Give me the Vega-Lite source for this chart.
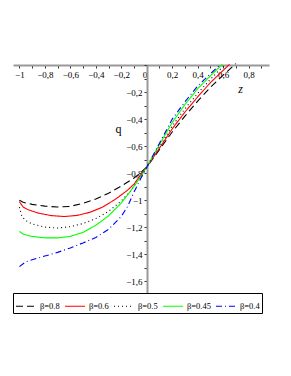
{
  "$schema": "https://vega.github.io/schema/vega-lite/v6.json",
  "width": 256,
  "height": 230,
  "autosize": "none",
  "padding": {"left": 13, "top": 65, "right": 22, "bottom": 81},
  "background": "white",
  "config": {
    "view": {"stroke": null},
    "font": "Liberation Serif",
    "legend": {
      "orient": "none",
      "legendX": 0,
      "legendY": 228,
      "direction": "horizontal",
      "columns": 5,
      "strokeColor": "black",
      "strokeWidth": 1,
      "fillColor": "white",
      "padding": 2,
      "symbolType": "stroke",
      "symbolSize": 400,
      "symbolStrokeWidth": 1.2,
      "labelFont": "Liberation Serif",
      "labelFontSize": 8.5,
      "labelColor": "black",
      "labelOffset": 3,
      "columnPadding": 2,
      "title": null
    }
  },
  "data": {
    "values": [
      {"beta": "β=0.8", "z": -1.0, "q": -1.0},
      {"beta": "β=0.8", "z": -0.97, "q": -1.015},
      {"beta": "β=0.8", "z": -0.9, "q": -1.03},
      {"beta": "β=0.8", "z": -0.8, "q": -1.043},
      {"beta": "β=0.8", "z": -0.7, "q": -1.05},
      {"beta": "β=0.8", "z": -0.6, "q": -1.045},
      {"beta": "β=0.8", "z": -0.5, "q": -1.022},
      {"beta": "β=0.8", "z": -0.4, "q": -0.99},
      {"beta": "β=0.8", "z": -0.3, "q": -0.948},
      {"beta": "β=0.8", "z": -0.2, "q": -0.895},
      {"beta": "β=0.8", "z": -0.1, "q": -0.835},
      {"beta": "β=0.8", "z": -0.05, "q": -0.798},
      {"beta": "β=0.8", "z": 0.0, "q": -0.755},
      {"beta": "β=0.8", "z": 0.1, "q": -0.625},
      {"beta": "β=0.8", "z": 0.2, "q": -0.495},
      {"beta": "β=0.8", "z": 0.3, "q": -0.378},
      {"beta": "β=0.8", "z": 0.4, "q": -0.267},
      {"beta": "β=0.8", "z": 0.5, "q": -0.165},
      {"beta": "β=0.8", "z": 0.6, "q": -0.075},
      {"beta": "β=0.8", "z": 0.7, "q": 0.01},

      {"beta": "β=0.6", "z": -1.0, "q": -1.01},
      {"beta": "β=0.6", "z": -0.97, "q": -1.05},
      {"beta": "β=0.6", "z": -0.93, "q": -1.07},
      {"beta": "β=0.6", "z": -0.85, "q": -1.095},
      {"beta": "β=0.6", "z": -0.75, "q": -1.113},
      {"beta": "β=0.6", "z": -0.65, "q": -1.12},
      {"beta": "β=0.6", "z": -0.55, "q": -1.112},
      {"beta": "β=0.6", "z": -0.45, "q": -1.09},
      {"beta": "β=0.6", "z": -0.35, "q": -1.052},
      {"beta": "β=0.6", "z": -0.25, "q": -0.995},
      {"beta": "β=0.6", "z": -0.15, "q": -0.925},
      {"beta": "β=0.6", "z": -0.1, "q": -0.88},
      {"beta": "β=0.6", "z": -0.05, "q": -0.815},
      {"beta": "β=0.6", "z": 0.0, "q": -0.755},
      {"beta": "β=0.6", "z": 0.1, "q": -0.615},
      {"beta": "β=0.6", "z": 0.2, "q": -0.472},
      {"beta": "β=0.6", "z": 0.3, "q": -0.348},
      {"beta": "β=0.6", "z": 0.4, "q": -0.236},
      {"beta": "β=0.6", "z": 0.5, "q": -0.13},
      {"beta": "β=0.6", "z": 0.6, "q": -0.04},
      {"beta": "β=0.6", "z": 0.65, "q": 0.005},

      {"beta": "β=0.5", "z": -1.0, "q": -1.05},
      {"beta": "β=0.5", "z": -0.98, "q": -1.12},
      {"beta": "β=0.5", "z": -0.95, "q": -1.15},
      {"beta": "β=0.5", "z": -0.9, "q": -1.175},
      {"beta": "β=0.5", "z": -0.8, "q": -1.198},
      {"beta": "β=0.5", "z": -0.7, "q": -1.205},
      {"beta": "β=0.5", "z": -0.6, "q": -1.195},
      {"beta": "β=0.5", "z": -0.5, "q": -1.172},
      {"beta": "β=0.5", "z": -0.4, "q": -1.135},
      {"beta": "β=0.5", "z": -0.3, "q": -1.082},
      {"beta": "β=0.5", "z": -0.2, "q": -1.005},
      {"beta": "β=0.5", "z": -0.13, "q": -0.935},
      {"beta": "β=0.5", "z": -0.05, "q": -0.828},
      {"beta": "β=0.5", "z": 0.0, "q": -0.755},
      {"beta": "β=0.5", "z": 0.1, "q": -0.603},
      {"beta": "β=0.5", "z": 0.2, "q": -0.452},
      {"beta": "β=0.5", "z": 0.3, "q": -0.323},
      {"beta": "β=0.5", "z": 0.4, "q": -0.21},
      {"beta": "β=0.5", "z": 0.5, "q": -0.105},
      {"beta": "β=0.5", "z": 0.6, "q": -0.01},
      {"beta": "β=0.5", "z": 0.615, "q": 0.005},

      {"beta": "β=0.45", "z": -1.0, "q": -1.23},
      {"beta": "β=0.45", "z": -0.97, "q": -1.25},
      {"beta": "β=0.45", "z": -0.9, "q": -1.267},
      {"beta": "β=0.45", "z": -0.8, "q": -1.278},
      {"beta": "β=0.45", "z": -0.7, "q": -1.278},
      {"beta": "β=0.45", "z": -0.6, "q": -1.267},
      {"beta": "β=0.45", "z": -0.5, "q": -1.237},
      {"beta": "β=0.45", "z": -0.4, "q": -1.185},
      {"beta": "β=0.45", "z": -0.3, "q": -1.115},
      {"beta": "β=0.45", "z": -0.2, "q": -1.02},
      {"beta": "β=0.45", "z": -0.13, "q": -0.935},
      {"beta": "β=0.45", "z": -0.05, "q": -0.83},
      {"beta": "β=0.45", "z": 0.0, "q": -0.755},
      {"beta": "β=0.45", "z": 0.1, "q": -0.588},
      {"beta": "β=0.45", "z": 0.2, "q": -0.425},
      {"beta": "β=0.45", "z": 0.3, "q": -0.292},
      {"beta": "β=0.45", "z": 0.4, "q": -0.175},
      {"beta": "β=0.45", "z": 0.5, "q": -0.08},
      {"beta": "β=0.45", "z": 0.595, "q": 0.005},

      {"beta": "β=0.4", "z": -1.0, "q": -1.49},
      {"beta": "β=0.4", "z": -0.95, "q": -1.455},
      {"beta": "β=0.4", "z": -0.9, "q": -1.44},
      {"beta": "β=0.4", "z": -0.8, "q": -1.412},
      {"beta": "β=0.4", "z": -0.7, "q": -1.385},
      {"beta": "β=0.4", "z": -0.6, "q": -1.352},
      {"beta": "β=0.4", "z": -0.5, "q": -1.315},
      {"beta": "β=0.4", "z": -0.4, "q": -1.275},
      {"beta": "β=0.4", "z": -0.3, "q": -1.215},
      {"beta": "β=0.4", "z": -0.2, "q": -1.12},
      {"beta": "β=0.4", "z": -0.15, "q": -1.045},
      {"beta": "β=0.4", "z": -0.1, "q": -0.94},
      {"beta": "β=0.4", "z": -0.05, "q": -0.845},
      {"beta": "β=0.4", "z": 0.0, "q": -0.755},
      {"beta": "β=0.4", "z": 0.1, "q": -0.578},
      {"beta": "β=0.4", "z": 0.2, "q": -0.4},
      {"beta": "β=0.4", "z": 0.3, "q": -0.272},
      {"beta": "β=0.4", "z": 0.4, "q": -0.155},
      {"beta": "β=0.4", "z": 0.5, "q": -0.065},
      {"beta": "β=0.4", "z": 0.58, "q": 0.005}
    ]
  },
  "mark": {"type": "line", "strokeWidth": 1.1},
  "encoding": {
    "x": {
      "field": "z",
      "type": "quantitative",
      "scale": {"domain": [-1.05, 0.96], "nice": false, "zero": false},
      "axis": {
        "orient": "bottom",
        "offset": -230,
        "title": "z",
        "titleFont": "Liberation Serif",
        "titleFontStyle": "italic",
        "titleFontWeight": "normal",
        "titleFontSize": 12,
        "titleX": 227,
        "titleY": 23,
        "titleAlign": "center",
        "titleBaseline": "middle",
        "values": [-1, -0.9, -0.8, -0.7, -0.6, -0.5, -0.4, -0.3, -0.2, -0.1, 0, 0.1, 0.2, 0.3, 0.4, 0.5, 0.6, 0.7, 0.8, 0.9],
        "labelExpr": "round(datum.value*10) % 2 != 0 ? '' : replace(replace(format(datum.value, '.1~f'), '.', ','), '-', '−')",
        "labelFont": "Liberation Serif",
        "labelFontSize": 9,
        "labelColor": "black",
        "labelPadding": 2,
        "labelAlign": {"condition": {"test": "datum.value == 0", "value": "right"}, "value": "center"},
        "labelOverlap": false,
        "labelFlush": false,
        "domainColor": "#999999",
        "domainWidth": 2,
        "tickColor": "#333333",
        "tickSize": 3,
        "tickWidth": 1,
        "grid": false
      }
    },
    "y": {
      "field": "q",
      "type": "quantitative",
      "scale": {"domain": [-1.7, 0], "nice": false, "zero": false},
      "axis": {
        "orient": "left",
        "offset": -134,
        "title": "q",
        "titleFont": "Liberation Serif",
        "titleFontWeight": "normal",
        "titleFontSize": 12,
        "titleAngle": 0,
        "titleX": -29,
        "titleY": 63,
        "titleAlign": "center",
        "titleBaseline": "middle",
        "values": [0, -0.1, -0.2, -0.3, -0.4, -0.5, -0.6, -0.7, -0.8, -0.9, -1, -1.1, -1.2, -1.3, -1.4, -1.5, -1.6, -1.7],
        "labelExpr": "(datum.value == 0 || round(datum.value*10) % 2 != 0) ? '' : replace(replace(format(datum.value, '.1~f'), '.', ','), '-', '−')",
        "labelFont": "Liberation Serif",
        "labelFontSize": 9,
        "labelColor": "black",
        "labelPadding": 2,
        "labelOverlap": false,
        "labelFlush": false,
        "domainColor": "#999999",
        "domainWidth": 2,
        "tickColor": "#333333",
        "tickSize": 3,
        "tickWidth": 1,
        "grid": false
      }
    },
    "color": {
      "field": "beta",
      "type": "nominal",
      "sort": ["β=0.8", "β=0.6", "β=0.5", "β=0.45", "β=0.4"],
      "scale": {
        "domain": ["β=0.8", "β=0.6", "β=0.5", "β=0.45", "β=0.4"],
        "range": ["#000000", "#ff0000", "#000000", "#00ff00", "#0000ff"]
      }
    },
    "strokeDash": {
      "field": "beta",
      "type": "nominal",
      "sort": ["β=0.8", "β=0.6", "β=0.5", "β=0.45", "β=0.4"],
      "scale": {
        "domain": ["β=0.8", "β=0.6", "β=0.5", "β=0.45", "β=0.4"],
        "range": [[7, 4], [1, 0], [1, 3], [1, 0], [6, 3, 1, 3]]
      }
    }
  }
}
